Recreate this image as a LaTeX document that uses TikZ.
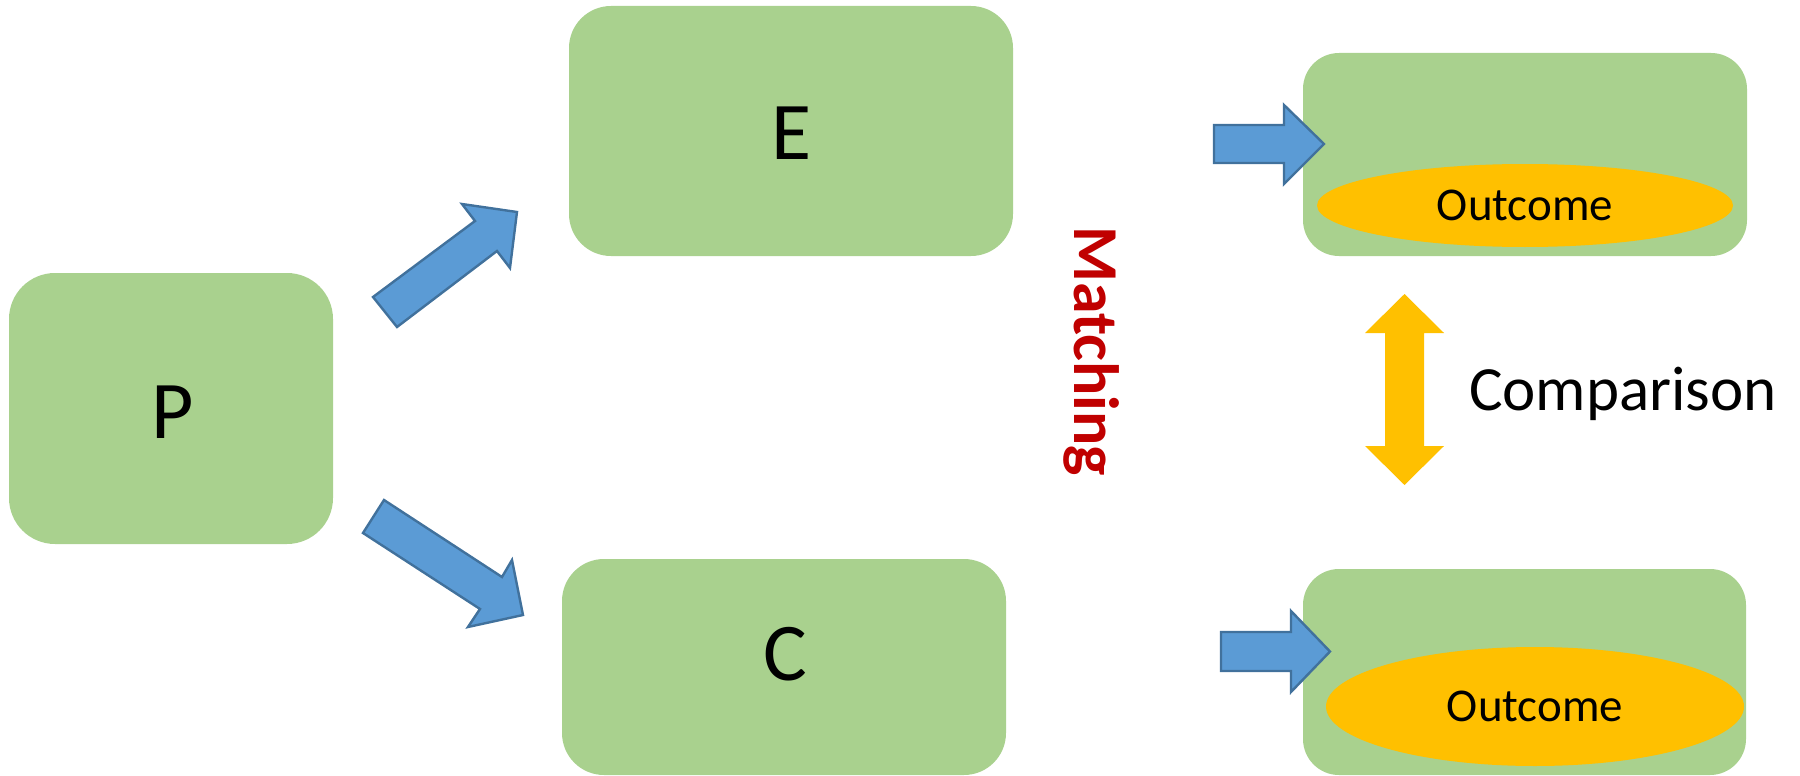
\documentclass[tikz,border=0pt]{standalone}
\usepackage{fontspec}
\setmainfont{Carlito}
\usetikzlibrary{shapes.geometric}
\definecolor{boxgreen}{HTML}{A9D18E}
\definecolor{arrowblue}{HTML}{5B9BD5}
\definecolor{arrowedge}{HTML}{41719C}
\definecolor{outgold}{HTML}{FFC000}
\definecolor{matchred}{HTML}{C00000}
\tikzset{
  group/.style={fill=boxgreen, draw=none, inner sep=0pt},
  biglabel/.style={inner sep=0pt, font=\fontsize{82}{98}\selectfont},
  outcome/.style={ellipse, fill=outgold, draw=none, inner sep=0pt,
    font=\fontsize{47}{56}\selectfont},
  blockarrow/.style={fill=arrowblue, draw=arrowedge, line width=2.4pt, line join=miter},
}
\begin{document}
\begin{tikzpicture}[x=1pt, y=-1pt]
  \useasboundingbox (0,0) rectangle (1800,776);

  % study groups
  \node[group, rounded corners=46pt, minimum width=324pt, minimum height=271pt] (P) at (171,408.5) {};
  \node[group, rounded corners=42pt, minimum width=444pt, minimum height=250pt] (E) at (791,131) {};
  \node[group, rounded corners=42pt, minimum width=444pt, minimum height=216pt] (C) at (784,667) {};
  \node[biglabel] (Plbl) at (173,412) {P};
  \node[biglabel] (Elbl) at (792,133) {E};
  \node[biglabel] (Clbl) at (785,654) {C};

  % outcome panels
  \node[group, rounded corners=36pt, minimum width=444pt, minimum height=203pt] (OE) at (1525,154.5) {};
  \node[group, rounded corners=36pt, minimum width=443pt, minimum height=206pt] (OC) at (1524.5,672) {};
  \node[outcome, minimum width=416pt, minimum height=83pt] (OEo) at (1525,205.5) {Outcome};
  \node[outcome, minimum width=418pt, minimum height=119pt] (OCo) at (1535,706.5) {Outcome};

  % split arrows from P
  \draw[blockarrow] (373,297) -- (475,221) -- (462,204) -- (517,212)
    -- (510,268) -- (497,251) -- (397,327) -- cycle;
  \draw[blockarrow] (384,500) -- (502,577) -- (512,560) -- (523,615)
    -- (468,627) -- (480,609) -- (363,533) -- cycle;

  % arrows into the outcome panels
  \draw[blockarrow] (1214,125) -- (1284,125) -- (1284,105) -- (1324,144)
    -- (1284,184) -- (1284,163) -- (1214,163) -- cycle;
  \draw[blockarrow] (1221,632) -- (1291,632) -- (1291,611) -- (1330,651.5)
    -- (1291,692) -- (1291,671) -- (1221,671) -- cycle;

  % comparison double arrow
  \fill[outgold] (1404.5,294) -- (1444,333) -- (1424,333) -- (1424,446)
    -- (1444,446) -- (1404.5,485) -- (1365,446) -- (1385,446)
    -- (1385,333) -- (1365,333) -- cycle;
  \node[inner sep=0pt, anchor=base west, font=\fontsize{63}{76}\selectfont]
    (cmp) at (1469,410) {Comparison};

  % matching label
  \node[inner sep=0pt, anchor=base west, rotate=-90, text=matchred,
    font=\fontsize{64}{77}\selectfont\bfseries] (match) at (1074,226) {Matching};
\end{tikzpicture}
\end{document}
